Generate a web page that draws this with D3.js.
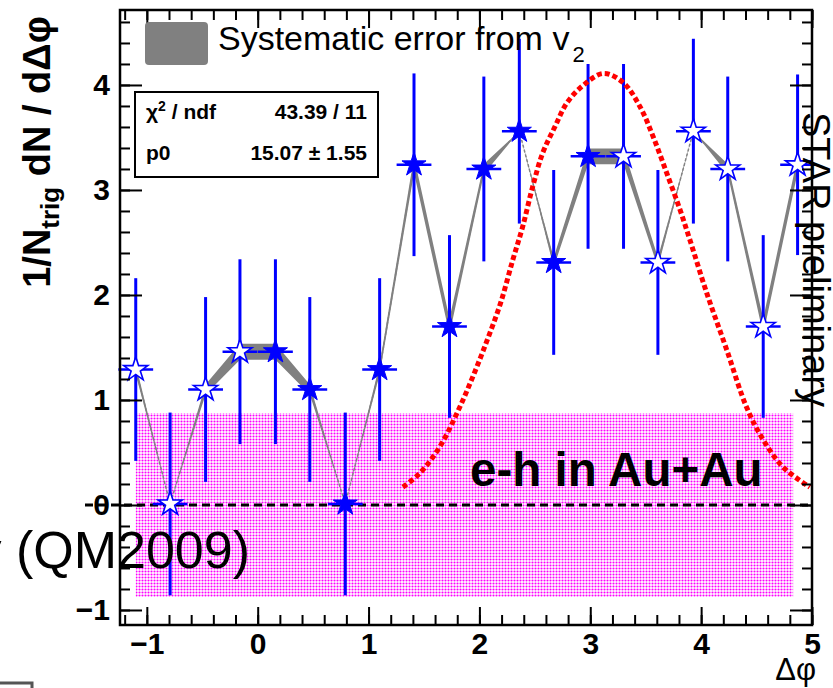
<!DOCTYPE html>
<html>
<head>
<meta charset="utf-8">
<script src="https://cdn.jsdelivr.net/npm/d3@7/dist/d3.min.js"></script>
<style>
  body { margin: 0; background: #fff; }
  svg { display: block; font-family: "Liberation Sans", Arial, sans-serif; }
</style>
</head>
<body>
<svg id="chart" width="833" height="688"></svg>
<script>
// delta-phi bin centres, yields, stat errors, v2 systematic half-widths
var phiBins = [-1.10, -0.79, -0.47, -0.16, 0.16, 0.47, 0.79, 1.10, 1.41, 1.73,
  2.04, 2.36, 2.67, 2.98, 3.30, 3.61, 3.93, 4.24, 4.56, 4.87];
var yields = [1.29, 0.01, 1.10, 1.46, 1.46, 1.10, 0.01, 1.29, 3.24, 1.70,
  3.20, 3.56, 2.31, 3.32, 3.32, 2.31, 3.56, 3.20, 1.70, 3.24];
var statErr = [0.87, 0.87, 0.88, 0.88, 0.88, 0.88, 0.87, 0.87, 0.87, 0.87,
  0.88, 0.88, 0.88, 0.88, 0.88, 0.88, 0.88, 0.88, 0.87, 0.86];
var sysErr = [0.047, 0.0, 0.047, 0.076, 0.076, 0.047, 0.0, 0.047, 0.076, 0.076,
  0.047, 0.0, 0.047, 0.076, 0.076, 0.047, 0.0, 0.047, 0.076, 0.076];
var reflected = [1, 1, 1, 1, 0, 0, 0, 0, 0, 0, 0, 0, 0, 0, 1, 1, 1, 1, 1, 1];
var halfBin = 0.157;

// red dotted curve
var curvePhi = [1.31, 1.46, 1.64, 1.80, 1.94, 2.07, 2.19, 2.30, 2.39, 2.48, 2.57, 2.68,
  2.79, 2.94, 3.12, 3.30, 3.45, 3.57, 3.69, 3.81, 3.90, 4.05, 4.23, 4.41, 4.56, 4.74, 4.98];
var curveVal = [0.17, 0.30, 0.55, 0.88, 1.22, 1.57, 1.92, 2.33, 2.65, 3.03, 3.35, 3.60,
  3.83, 4.00, 4.11, 4.02, 3.79, 3.50, 3.16, 2.81, 2.52, 2.02, 1.48, 0.93, 0.62, 0.36, 0.17];

// pedestal band (magenta)
var bandPhi = [-1.10, 4.83];
var bandVal = [-0.876, 0.876];

var xTicks = [-1, 0, 1, 2, 3, 4, 5];
var yTicks = [-1, 0, 1, 2, 3, 4];

var svg = d3.select('#chart');
var x = d3.scaleLinear().domain([-1.242, 5.0]).range([120, 812]);
var y = d3.scaleLinear().domain([-1.143, 4.714]).range([625, 10]);

var points = phiBins.map(function (p, i) {
  return { phi: p, val: yields[i], err: statErr[i], sys: sysErr[i], open: reflected[i] };
});

var defs = svg.append('defs');
var pat = defs.append('pattern').attr('id', 'dots')
  .attr('patternUnits', 'userSpaceOnUse').attr('width', 3).attr('height', 3);
pat.append('rect').attr('width', 3).attr('height', 3).attr('fill', '#fff');
pat.append('circle').attr('cx', 1.5).attr('cy', 1.5).attr('r', 1.05).attr('fill', '#ff00ff');

// pedestal band
svg.append('rect')
  .attr('x', x(bandPhi[0])).attr('y', y(bandVal[1]))
  .attr('width', x(bandPhi[1]) - x(bandPhi[0]))
  .attr('height', y(bandVal[0]) - y(bandVal[1]))
  .attr('fill', 'url(#dots)');

// zero line
svg.append('line')
  .attr('x1', 85).attr('x2', x(5.0))
  .attr('y1', y(0)).attr('y2', y(0))
  .attr('stroke', '#000').attr('stroke-width', 3).attr('stroke-dasharray', '8,5');

// systematic band
svg.append('path').datum(points)
  .attr('d', d3.line().x(function (d) { return x(d.phi); }).y(function (d) { return y(d.val); }))
  .attr('fill', 'none').attr('stroke', '#888').attr('stroke-width', 1.5)
  .attr('stroke-dasharray', '3,2');
svg.append('path').datum(points)
  .attr('d', d3.area()
    .x(function (d) { return x(d.phi); })
    .y0(function (d) { return y(d.val - d.sys); })
    .y1(function (d) { return y(d.val + d.sys); }))
  .attr('fill', '#808080');

// error bars
var bars = svg.append('g').attr('stroke', '#0000ff');
bars.selectAll('.ev').data(points).enter().append('line')
  .attr('x1', function (d) { return x(d.phi); })
  .attr('x2', function (d) { return x(d.phi); })
  .attr('y1', function (d) { return Math.max(y(d.val + d.err), 10); })
  .attr('y2', function (d) { return y(d.val - d.err); })
  .attr('stroke-width', 3);
bars.selectAll('.eh').data(points).enter().append('line')
  .attr('x1', function (d) { return x(d.phi - halfBin); })
  .attr('x2', function (d) { return x(d.phi + halfBin); })
  .attr('y1', function (d) { return y(d.val); })
  .attr('y2', function (d) { return y(d.val); })
  .attr('stroke-width', 2.5);

// red curve
svg.append('path').datum(curvePhi.map(function (p, i) { return [p, curveVal[i]]; }))
  .attr('d', d3.line().curve(d3.curveCatmullRom)
    .x(function (d) { return x(d[0]); }).y(function (d) { return y(d[1]); }))
  .attr('fill', 'none').attr('stroke', '#ff0000').attr('stroke-width', 5)
  .attr('stroke-dasharray', '5,3');

// star markers
var star = d3.symbol().type(d3.symbolStar).size(180);
svg.selectAll('.star').data(points).enter().append('path')
  .attr('transform', function (d) { return 'translate(' + x(d.phi) + ',' + y(d.val) + ')'; })
  .attr('d', star)
  .attr('fill', function (d) { return d.open ? '#fff' : '#0000ff'; })
  .attr('stroke', '#0000ff')
  .attr('stroke-width', function (d) { return d.open ? 1.6 : 1; });

// axes, ticks on all four sides pointing inward
function drawAxis(axisFn, scale, values, size, pad, fmt, transform) {
  var g = svg.append('g').attr('transform', transform)
    .call(axisFn(scale).tickValues(values).tickSize(size).tickPadding(pad).tickFormat(fmt));
  g.select('.domain').remove();
  g.selectAll('line').attr('stroke', '#000').attr('stroke-width', 2);
  return g;
}
var xMinor = d3.range(-12, 51, 2).map(function (v) { return v / 10; });
var yMinor = d3.range(-10, 47, 2).map(function (v) { return v / 10; });
var none = function () { return ''; };

var xb = drawAxis(d3.axisBottom, x, xTicks, -18, 8, d3.format('d'), 'translate(0,625)');
xb.selectAll('text').attr('font-size', 30).attr('font-weight', 'bold').attr('fill', '#000')
  .attr('font-family', '"Liberation Sans", Arial, sans-serif');
drawAxis(d3.axisBottom, x, xMinor, -10, 0, none, 'translate(0,625)');
drawAxis(d3.axisTop, x, xTicks, -18, 0, none, 'translate(0,10)');
drawAxis(d3.axisTop, x, xMinor, -10, 0, none, 'translate(0,10)');

var yl = drawAxis(d3.axisLeft, y, yTicks, -22, 10, d3.format('d'), 'translate(120,0)');
yl.selectAll('text').attr('font-size', 30).attr('font-weight', 'bold').attr('fill', '#000')
  .attr('font-family', '"Liberation Sans", Arial, sans-serif');
drawAxis(d3.axisLeft, y, yMinor, -10, 0, none, 'translate(120,0)');
drawAxis(d3.axisRight, y, yTicks, -22, 0, none, 'translate(812,0)');
drawAxis(d3.axisRight, y, yMinor, -10, 0, none, 'translate(812,0)');

// frame
svg.append('rect').attr('x', 120).attr('y', 10).attr('width', 692).attr('height', 615)
  .attr('fill', 'none').attr('stroke', '#000').attr('stroke-width', 2.5);

// axis titles
var yt = svg.append('text')
  .attr('transform', 'translate(50,152) rotate(-90)')
  .attr('text-anchor', 'middle').attr('font-size', 38).attr('font-weight', 'bold');
yt.append('tspan').text('1/N');
yt.append('tspan').attr('font-size', 26).attr('dy', 9).text('trig');
yt.append('tspan').attr('dy', -9).text(' dN / d\u0394\u03c6');

svg.append('text').attr('x', 816).attr('y', 680).attr('text-anchor', 'end')
  .attr('font-size', 31).text('\u0394\u03c6');

// legend
svg.append('rect').attr('x', 145).attr('y', 22).attr('width', 63).attr('height', 43)
  .attr('rx', 4).attr('fill', '#808080');
var lg = svg.append('text').attr('x', 218).attr('y', 50).attr('font-size', 34);
lg.append('tspan').text('Systematic error from v');
lg.append('tspan').attr('font-size', 22).attr('dx', 3).attr('dy', 12).text('2');

// fit box
svg.append('rect').attr('x', 135).attr('y', 92).attr('width', 243).attr('height', 85)
  .attr('fill', '#fff').attr('stroke', '#000').attr('stroke-width', 2);
var st = svg.append('g').attr('font-size', 21).attr('font-weight', 'bold');
var chi = st.append('text').attr('x', 146).attr('y', 119);
chi.append('tspan').text('\u03c7');
chi.append('tspan').attr('font-size', 14).attr('dy', -8).text('2');
chi.append('tspan').attr('dy', 8).text(' / ndf');
st.append('text').attr('x', 367).attr('y', 119).attr('text-anchor', 'end').text('43.39 / 11');
st.append('text').attr('x', 146).attr('y', 160).text('p0');
st.append('text').attr('x', 367).attr('y', 160).attr('text-anchor', 'end').text('15.07 \u00b1 1.55');

// annotations
svg.append('text').attr('x', 470).attr('y', 486).attr('font-size', 47.5)
  .attr('font-weight', 'bold').text('e-h in Au+Au');
svg.append('text').attr('x', 250).attr('y', 568).attr('text-anchor', 'end')
  .attr('font-size', 52).text('preliminary (QM2009)');
svg.append('text').attr('transform', 'translate(803,112) rotate(90)')
  .attr('font-size', 38).text('STAR preliminary');

svg.append('path').attr('d', 'M0,683H32V692').attr('fill', 'none')
  .attr('stroke', '#555').attr('stroke-width', 3);
</script>
</body>
</html>
